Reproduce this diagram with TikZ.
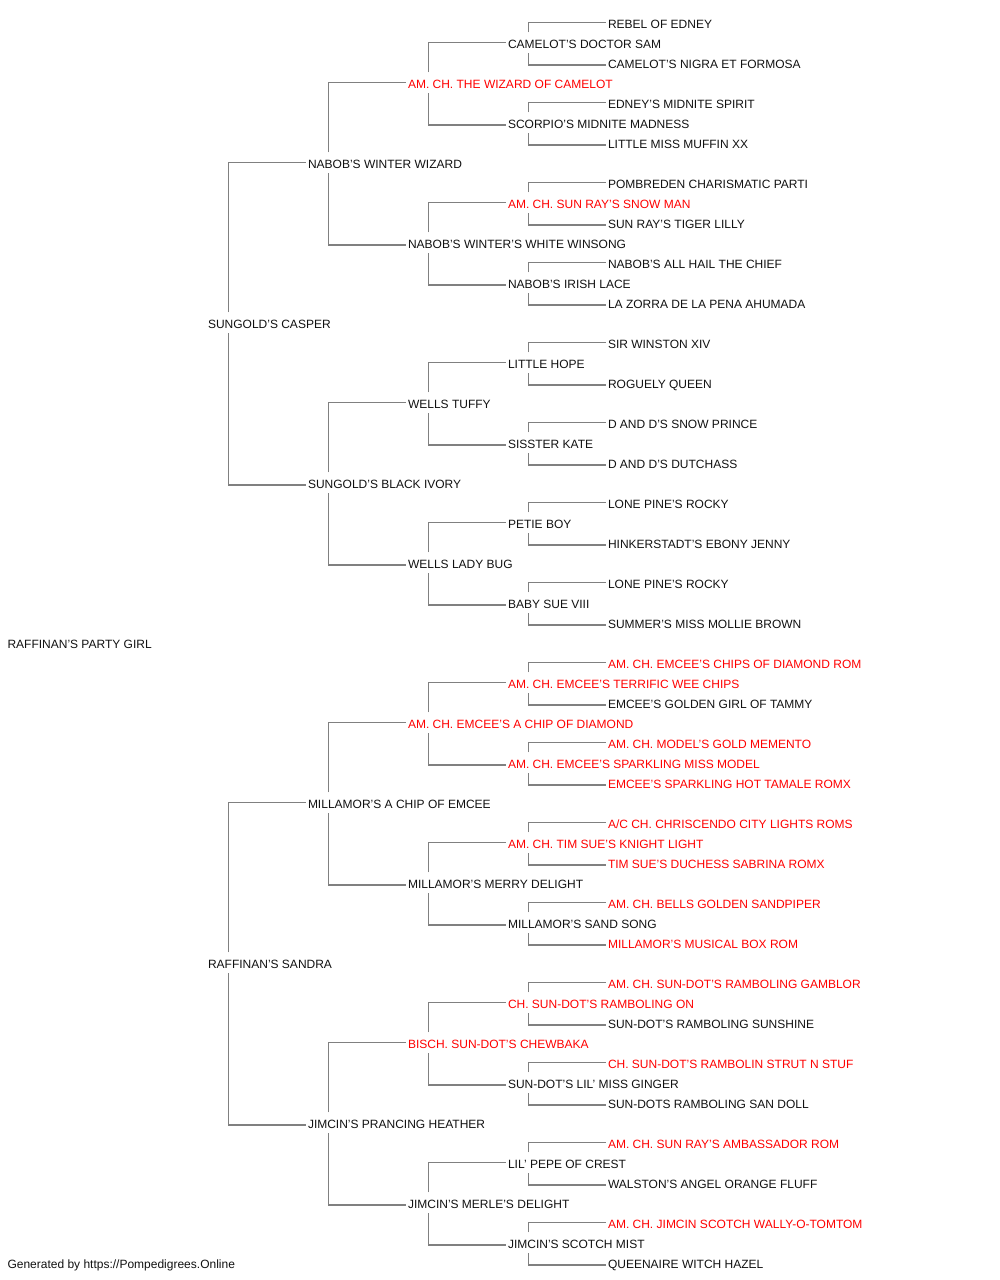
\documentclass[tikz,border=0pt]{standalone}
\usepackage{fontspec}
\setmainfont{Liberation Sans}
\usetikzlibrary{calc}
\definecolor{champred}{RGB}{255,0,0}
\definecolor{linegray}{RGB}{128,128,128}
\definecolor{nametext}{RGB}{17,17,17}
\begin{document}
\begin{tikzpicture}[x=1pt, y=1pt,
  every node/.style={anchor=west, inner sep=0pt, outer sep=0pt, text=nametext,
    font=\fontsize{12}{14}\selectfont, text height=8.6pt, text depth=0pt,
    execute at begin node={\hbox to 0pt\bgroup}, execute at end node={\hss\egroup}},
  champ/.style={text=champred},
  grow'=right,
  level/.style={level distance=99.5pt, sibling distance=1280pt/2^#1,
    edge from parent/.style={draw=linegray, line width=1.3pt},
    edge from parent path={let \p1=(\tikzparentnode.west), \p2=(\tikzchildnode.west) in
      ({\x1+21pt}, {\y1+((\y2>\y1) ? 11.7pt : -9.3pt)}) |- ({\x2-1.5pt}, {\y2+((\y2>\y1) ? 1.7pt : -0.8pt)})}},
  level 1/.style={level distance=200pt, edge from parent path={}}]
\useasboundingbox (0,0) rectangle (1000,1280);
\node (girl) at (7,635.8) {RAFFINAN'S PARTY GIRL}
  child {
    node {SUNGOLD'S CASPER}
    child {
      node {NABOB'S WINTER WIZARD}
      child {
        node [champ] {AM. CH. THE WIZARD OF CAMELOT}
        child {
          node {CAMELOT'S DOCTOR SAM}
          child { node {REBEL OF EDNEY} }
          child { node {CAMELOT'S NIGRA ET FORMOSA} }
        }
        child {
          node {SCORPIO'S MIDNITE MADNESS}
          child { node {EDNEY'S MIDNITE SPIRIT} }
          child { node {LITTLE MISS MUFFIN XX} }
        }
      }
      child {
        node {NABOB'S WINTER'S WHITE WINSONG}
        child {
          node [champ] {AM. CH. SUN RAY'S SNOW MAN}
          child { node {POMBREDEN CHARISMATIC PARTI} }
          child { node {SUN RAY'S TIGER LILLY} }
        }
        child {
          node {NABOB'S IRISH LACE}
          child { node {NABOB'S ALL HAIL THE CHIEF} }
          child { node {LA ZORRA DE LA PENA AHUMADA} }
        }
      }
    }
    child {
      node {SUNGOLD'S BLACK IVORY}
      child {
        node {WELLS TUFFY}
        child {
          node {LITTLE HOPE}
          child { node {SIR WINSTON XIV} }
          child { node {ROGUELY QUEEN} }
        }
        child {
          node {SISSTER KATE}
          child { node {D AND D'S SNOW PRINCE} }
          child { node {D AND D'S DUTCHASS} }
        }
      }
      child {
        node {WELLS LADY BUG}
        child {
          node {PETIE BOY}
          child { node {LONE PINE'S ROCKY} }
          child { node {HINKERSTADT'S EBONY JENNY} }
        }
        child {
          node {BABY SUE VIII}
          child { node {LONE PINE'S ROCKY} }
          child { node {SUMMER'S MISS MOLLIE BROWN} }
        }
      }
    }
  }
  child {
    node {RAFFINAN'S SANDRA}
    child {
      node {MILLAMOR'S A CHIP OF EMCEE}
      child {
        node [champ] {AM. CH. EMCEE'S A CHIP OF DIAMOND}
        child {
          node [champ] {AM. CH. EMCEE'S TERRIFIC WEE CHIPS}
          child { node [champ] {AM. CH. EMCEE'S CHIPS OF DIAMOND ROM} }
          child { node {EMCEE'S GOLDEN GIRL OF TAMMY} }
        }
        child {
          node [champ] {AM. CH. EMCEE'S SPARKLING MISS MODEL}
          child { node [champ] {AM. CH. MODEL'S GOLD MEMENTO} }
          child { node [champ] {EMCEE'S SPARKLING HOT TAMALE ROMX} }
        }
      }
      child {
        node {MILLAMOR'S MERRY DELIGHT}
        child {
          node [champ] {AM. CH. TIM SUE'S KNIGHT LIGHT}
          child { node [champ] {A/C CH. CHRISCENDO CITY LIGHTS ROMS} }
          child { node [champ] {TIM SUE'S DUCHESS SABRINA ROMX} }
        }
        child {
          node {MILLAMOR'S SAND SONG}
          child { node [champ] {AM. CH. BELLS GOLDEN SANDPIPER} }
          child { node [champ] {MILLAMOR'S MUSICAL BOX ROM} }
        }
      }
    }
    child {
      node {JIMCIN'S PRANCING HEATHER}
      child {
        node [champ] {BISCH. SUN-DOT'S CHEWBAKA}
        child {
          node [champ] {CH. SUN-DOT'S RAMBOLING ON}
          child { node [champ] {AM. CH. SUN-DOT'S RAMBOLING GAMBLOR} }
          child { node {SUN-DOT'S RAMBOLING SUNSHINE} }
        }
        child {
          node {SUN-DOT'S LIL' MISS GINGER}
          child { node [champ] {CH. SUN-DOT'S RAMBOLIN STRUT N STUF} }
          child { node {SUN-DOTS RAMBOLING SAN DOLL} }
        }
      }
      child {
        node {JIMCIN'S MERLE'S DELIGHT}
        child {
          node {LIL' PEPE OF CREST}
          child { node [champ] {AM. CH. SUN RAY'S AMBASSADOR ROM} }
          child { node {WALSTON'S ANGEL ORANGE FLUFF} }
        }
        child {
          node {JIMCIN'S SCOTCH MIST}
          child { node [champ] {AM. CH. JIMCIN SCOTCH WALLY-O-TOMTOM} }
          child { node {QUEENAIRE WITCH HAZEL} }
        }
      }
    }
  };
\node (credit) at (7,15.8) {Generated by https://Pompedigrees.Online};
\end{tikzpicture}
\end{document}
